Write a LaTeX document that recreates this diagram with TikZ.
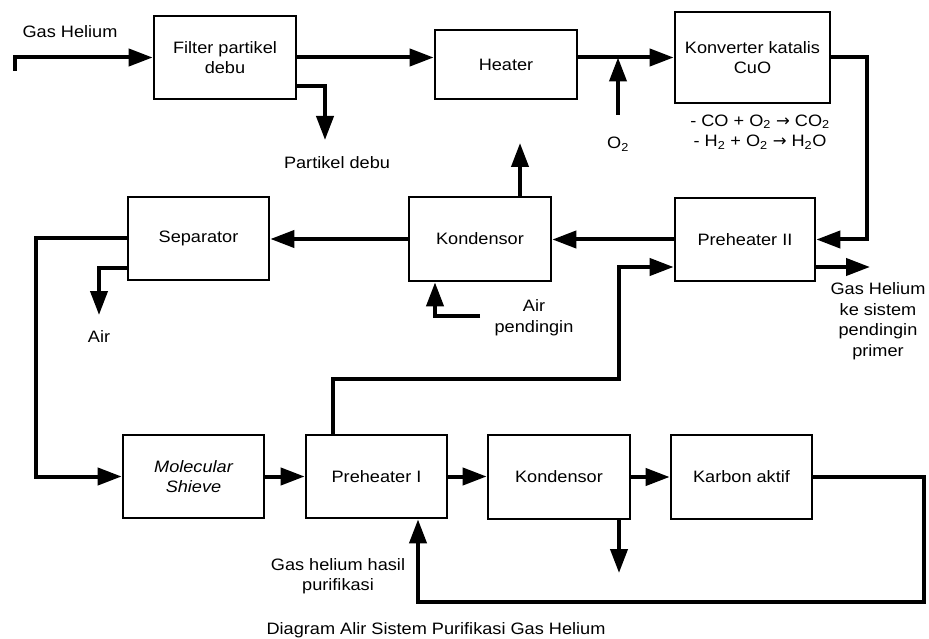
\documentclass[tikz,border=0pt]{standalone}
\usepackage{fontspec}
\setmainfont{Liberation Sans}[FakeStretch=1.1]
\newfontfamily\arrfont{DejaVu Sans}
\newcommand{\rarr}{{\arrfont →}}
\usetikzlibrary{arrows.meta,calc}
\begin{document}
\begin{tikzpicture}[x=1pt,y=-1pt,
  every node/.style={font=\fontsize{16.5}{20.5}\selectfont},
  blk/.style 2 args={draw, line width=2.7pt, inner sep=0pt, align=center,
    minimum width=#1pt, minimum height=#2pt},
  flow/.style={line width=4pt, -{Triangle[length=24pt,width=17pt]}},
  pipe/.style={line width=4pt},
  lbl/.style={align=center, inner sep=0pt}]
\useasboundingbox (0,0) rectangle (929,639);

% blocks
\node[blk={142}{83}] (filter) at (225,57.5) {Filter partikel\\debu};
\node[blk={142}{69}] (heater) at (506,64.5) {Heater};
\node[blk={155}{91}] (konv) at (752.5,57.5) {Konverter katalis\\CuO};
\node[blk={140}{83}] (ph2) at (745,239.5) {Preheater II};
\node[blk={142}{84}] (kond1) at (480,239) {Kondensor};
\node[blk={141}{83}] (sep) at (198.5,238.5) {Separator};
\node[blk={141}{83}] (ms) at (193.5,476.5) {\itshape Molecular\\\itshape Shieve};
\node[blk={141}{83}] (ph1) at (376.5,476.5) {Preheater I};
\node[blk={142}{84}] (kond2) at (559,477) {Kondensor};
\node[blk={141}{84}] (karbon) at (741.5,477) {Karbon aktif};

% free ends
\coordinate (gin) at (15,71);
\coordinate (pd) at (325,140);
\coordinate (o2s) at (618,115);
\coordinate (kc) at (867,239.5);
\coordinate (kup) at (520,143);
\coordinate (ap) at (480,316);
\coordinate (c2) at (619,379);
\coordinate (gout) at (870,267);
\coordinate (c3) at (36,476.5);
\coordinate (airout) at (99,315);
\coordinate (kd) at (619,573);
\coordinate (c4) at (924,602);

% labels
\node[lbl] (tgas) at (70,32) {Gas Helium};
\node[lbl] (tpd) at (337,163) {Partikel debu};
\node[lbl] (to2) at (618,144) {O\textsubscript{2}};
\node[lbl] (treak) at (760,132) {- CO + O\textsubscript{2} \rarr{} CO\textsubscript{2}\\- H\textsubscript{2} + O\textsubscript{2} \rarr{} H\textsubscript{2}O};
\node[lbl] (tap) at (534,317.5) {Air\\pendingin};
\node[lbl] (tgout) at (878,321) {Gas Helium\\ke sistem\\pendingin\\primer};
\node[lbl] (tair) at (99,337) {Air};
\node[lbl] (thasil) at (338,576) {Gas helium hasil\\purifikasi};
\node[lbl] (tcap) at (436,630) {Diagram Alir Sistem Purifikasi Gas Helium};

% connectors
\draw[flow] (gin) |- (filter.west);
\draw[flow] ([yshift=-28.5pt]filter.east) -| (pd);
\draw[flow] (filter.east) -- (filter.east -| heater.west);
\draw[flow] (konv.west -| heater.east) -- (konv.west);
\draw[flow] (o2s) -- (o2s |- konv.west);
\draw[flow] (konv.east) -| (kc) -- (ph2.east);
\draw[flow] (ph2.west) -- (ph2.west -| kond1.east);
\draw[flow] (kup |- kond1.north) -- (kup);
\draw[flow] (ap) -| ([xshift=-45pt]kond1.south);
\draw[flow] ([xshift=-43.5pt]ph1.north) |- (c2) |- ([yshift=-27.5pt]ph2.west);
\draw[flow] ([yshift=-27.5pt]ph2.east) -- (gout);
\draw[flow] (kond1.west) -- (kond1.west -| sep.east);
\draw[flow] (sep.west) -| (c3) -- (ms.west);
\draw[flow] ([yshift=-29.5pt]sep.west) -| (airout);
\draw[flow] (ms.east) -- (ph1.west);
\draw[flow] (ph1.east) -- (ph1.east -| kond2.west);
\draw[flow] ([xshift=60pt]kond2.south) -- (kd);
\draw[flow] (kond2.east) -- (karbon.west);
\draw[flow] (karbon.east) -| (c4) -| ([xshift=41.5pt]ph1.south);
\end{tikzpicture}
\end{document}
